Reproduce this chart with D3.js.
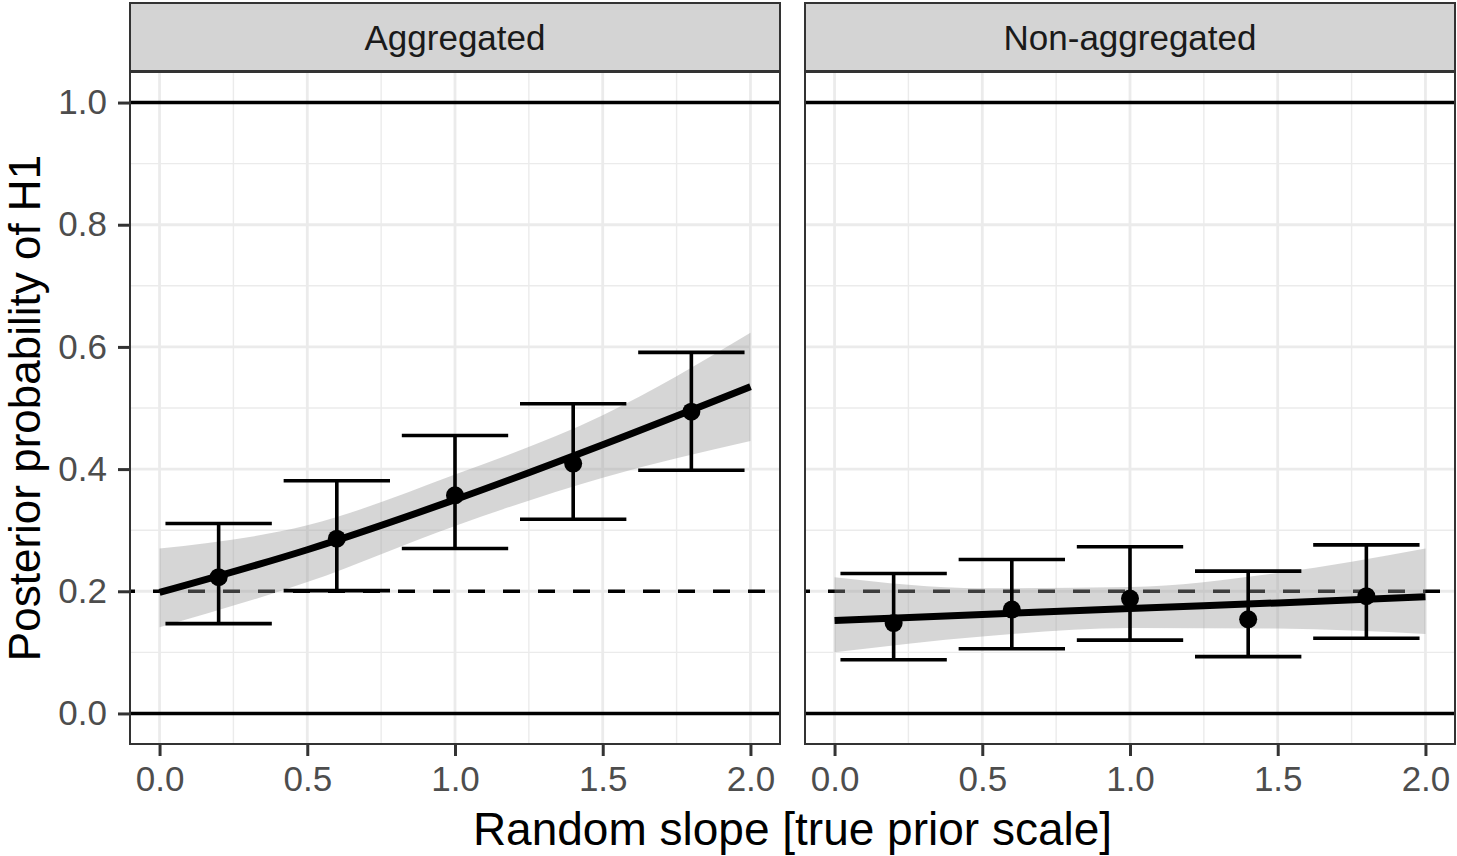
<!DOCTYPE html>
<html lang="en">
	<head>
		<meta charset="utf-8">
		<title>Posterior probability of H1</title>
		<script src="https://cdn.jsdelivr.net/npm/d3@7"></script>
		<style>
			body { margin: 0; background: #fff; }
			text { font-family: "Liberation Sans", Arial, sans-serif; }
		</style>
	</head>
	<body>
		<script>

		// Data
		var panelNames = ["Aggregated", "Non-aggregated"];
		var xTicks = [0, 0.5, 1, 1.5, 2];
		var xMinor = [0.25, 0.75, 1.25, 1.75];
		var yTicks = [0, 0.2, 0.4, 0.6, 0.8, 1.0];
		var yMinor = [0.1, 0.3, 0.5, 0.7, 0.9];

		// point estimates with error bars
		var pointX = [0.2, 0.6, 1.0, 1.4, 1.8];
		var aggMean = [0.223, 0.286, 0.357, 0.409, 0.494];
		var aggLow  = [0.147, 0.201, 0.270, 0.318, 0.398];
		var aggHigh = [0.311, 0.381, 0.455, 0.507, 0.591];
		var nonMean = [0.148, 0.170, 0.188, 0.154, 0.192];
		var nonLow  = [0.088, 0.106, 0.120, 0.093, 0.123];
		var nonHigh = [0.229, 0.252, 0.273, 0.233, 0.276];

		// smooth fit with its band
		var fitX = [0, 0.5, 1.0, 1.5, 2.0];
		var aggFit     = [0.198, 0.268, 0.350, 0.440, 0.535];
		var aggFitLow  = [0.141, 0.215, 0.307, 0.386, 0.446];
		var aggFitHigh = [0.270, 0.308, 0.391, 0.488, 0.623];
		var nonFit     = [0.152, 0.162, 0.172, 0.181, 0.191];
		var nonFitLow  = [0.100, 0.126, 0.140, 0.139, 0.130];
		var nonFitHigh = [0.223, 0.205, 0.207, 0.230, 0.270];

		var chance = 0.2;

		/*//////////////////
		//  Canvas Setup  //
		//////////////////*/

		var w = 1457;
		var h = 856;

		var svg = d3.select("body")
			.append("svg")
			.attr("width", w)
			.attr("height", h);

		var panelLefts = [130, 805];
		var panelW = 650;
		var panelTop = 72;
		var panelBottom = 744;
		var stripTop = 3;

		var y = d3.scaleLinear()
			.domain([-0.05, 1.05])
			.range([panelBottom, panelTop]);

		var panelData = [
			{ mean: aggMean, low: aggLow, high: aggHigh, fit: aggFit, fitLow: aggFitLow, fitHigh: aggFitHigh },
			{ mean: nonMean, low: nonLow, high: nonHigh, fit: nonFit, fitLow: nonFitLow, fitHigh: nonFitHigh }
		];

		panelNames.forEach(function(name, p) {
			var left = panelLefts[p];
			var d = panelData[p];
			var x = d3.scaleLinear()
				.domain([-0.1, 2.1])
				.range([left, left + panelW]);

			var g = svg.append("g");

			// background grid
			g.selectAll(".ymin").data(yMinor).enter().append("line")
				.attr("x1", left).attr("x2", left + panelW)
				.attr("y1", function(v) { return y(v); })
				.attr("y2", function(v) { return y(v); })
				.attr("stroke", "#ebebeb").attr("stroke-width", 1.4);
			g.selectAll(".xmin").data(xMinor).enter().append("line")
				.attr("y1", panelTop).attr("y2", panelBottom)
				.attr("x1", function(v) { return x(v); })
				.attr("x2", function(v) { return x(v); })
				.attr("stroke", "#ebebeb").attr("stroke-width", 1.4);
			g.selectAll(".ymaj").data(yTicks).enter().append("line")
				.attr("x1", left).attr("x2", left + panelW)
				.attr("y1", function(v) { return y(v); })
				.attr("y2", function(v) { return y(v); })
				.attr("stroke", "#ebebeb").attr("stroke-width", 2.8);
			g.selectAll(".xmaj").data(xTicks).enter().append("line")
				.attr("y1", panelTop).attr("y2", panelBottom)
				.attr("x1", function(v) { return x(v); })
				.attr("x2", function(v) { return x(v); })
				.attr("stroke", "#ebebeb").attr("stroke-width", 2.8);

			// reference lines at 0 and 1
			g.selectAll(".ref").data([0, 1]).enter().append("line")
				.attr("x1", left).attr("x2", left + panelW)
				.attr("y1", function(v) { return y(v); })
				.attr("y2", function(v) { return y(v); })
				.attr("stroke", "black").attr("stroke-width", 3.5);

			// chance level
			g.append("line")
				.attr("x1", left).attr("x2", left + panelW)
				.attr("y1", y(chance)).attr("y2", y(chance))
				.attr("stroke", "black").attr("stroke-width", 3.5)
				.attr("stroke-dasharray", "17,18")
				.attr("stroke-dashoffset", 12);

			// smooth band + line
			var band = d3.area()
				.x(function(v, i) { return x(fitX[i]); })
				.y0(function(v, i) { return y(d.fitLow[i]); })
				.y1(function(v, i) { return y(d.fitHigh[i]); })
				.curve(d3.curveMonotoneX);
			g.append("path")
				.attr("d", band(fitX))
				.attr("fill", "#999999")
				.attr("fill-opacity", 0.4);

			var fitLine = d3.line()
				.x(function(v, i) { return x(fitX[i]); })
				.y(function(v, i) { return y(d.fit[i]); })
				.curve(d3.curveMonotoneX);
			g.append("path")
				.attr("d", fitLine(fitX))
				.attr("fill", "none")
				.attr("stroke", "black")
				.attr("stroke-width", 7);

			// error bars
			var capHalf = 0.18;
			var bars = g.selectAll(".bar").data(pointX).enter().append("g")
				.attr("stroke", "black").attr("stroke-width", 3.6);
			bars.append("line")
				.attr("x1", function(v) { return x(v); })
				.attr("x2", function(v) { return x(v); })
				.attr("y1", function(v, i) { return y(d.low[i]); })
				.attr("y2", function(v, i) { return y(d.high[i]); });
			bars.append("line")
				.attr("x1", function(v) { return x(v - capHalf); })
				.attr("x2", function(v) { return x(v + capHalf); })
				.attr("y1", function(v, i) { return y(d.low[i]); })
				.attr("y2", function(v, i) { return y(d.low[i]); });
			bars.append("line")
				.attr("x1", function(v) { return x(v - capHalf); })
				.attr("x2", function(v) { return x(v + capHalf); })
				.attr("y1", function(v, i) { return y(d.high[i]); })
				.attr("y2", function(v, i) { return y(d.high[i]); });

			// points
			g.selectAll(".pt").data(pointX).enter().append("circle")
				.attr("cx", function(v) { return x(v); })
				.attr("cy", function(v, i) { return y(d.mean[i]); })
				.attr("r", 9)
				.attr("fill", "black");

			// panel border
			g.append("rect")
				.attr("x", left).attr("y", panelTop)
				.attr("width", panelW).attr("height", panelBottom - panelTop)
				.attr("fill", "none")
				.attr("stroke", "#333333").attr("stroke-width", 2);

			// strip
			g.append("rect")
				.attr("x", left).attr("y", stripTop)
				.attr("width", panelW).attr("height", panelTop - stripTop - 1)
				.attr("fill", "#d4d4d4")
				.attr("stroke", "#333333").attr("stroke-width", 2);
			g.append("text")
				.attr("x", left + panelW / 2)
				.attr("y", (stripTop + panelTop) / 2)
				.attr("dy", "0.35em")
				.attr("text-anchor", "middle")
				.attr("fill", "#1a1a1a")
				.style("font-size", "35px")
				.text(name);

			// x axis
			var xAxis = d3.axisBottom(x)
				.tickValues(xTicks)
				.tickSize(11)
				.tickPadding(10)
				.tickFormat(d3.format(".1f"));
			var ax = g.append("g")
				.attr("transform", "translate(0," + (panelBottom + 1) + ")")
				.call(xAxis);
			ax.select(".domain").remove();
			ax.selectAll("line").attr("stroke", "#333333").attr("stroke-width", 3);
			ax.selectAll("text")
				.attr("fill", "#4d4d4d")
				.style("font-size", "35px")
				.style("font-family", "'Liberation Sans', Arial, sans-serif");

			// y axis on the first panel only
			if (p == 0) {
				var yAxis = d3.axisLeft(y)
					.tickValues(yTicks)
					.tickSize(11)
					.tickPadding(11)
					.tickFormat(d3.format(".1f"));
				var ay = g.append("g")
					.attr("transform", "translate(" + (left - 1) + ",0)")
					.call(yAxis);
				ay.select(".domain").remove();
				ay.selectAll("line").attr("stroke", "#333333").attr("stroke-width", 3);
				ay.selectAll("text")
					.attr("fill", "#4d4d4d")
					.style("font-size", "35px")
					.style("font-family", "'Liberation Sans', Arial, sans-serif");
			}
		});

		// axis titles
		svg.append("text")
			.attr("x", (panelLefts[0] + panelLefts[1] + panelW) / 2)
			.attr("y", 845)
			.attr("text-anchor", "middle")
			.attr("fill", "black")
			.style("font-size", "46px")
			.text("Random slope [true prior scale]");

		svg.append("text")
			.attr("transform", "translate(40," + (panelTop + panelBottom) / 2 + ") rotate(-90)")
			.attr("text-anchor", "middle")
			.attr("fill", "black")
			.style("font-size", "44px")
			.text("Posterior probability of H1");
		</script>
	</body>
</html>
